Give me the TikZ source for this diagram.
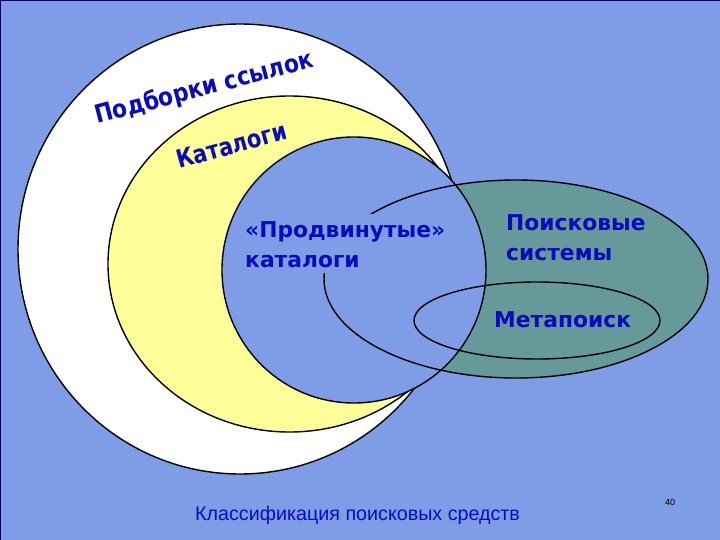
\documentclass[tikz,border=0pt]{standalone}
\usepackage{fontspec}
\setmainfont{DejaVu Sans}
\newfontfamily\captionfont{Liberation Sans}
\usepackage{tikz}
\definecolor{slideblue}{HTML}{7F9DE6}
\definecolor{crescent}{HTML}{FFFF99}
\definecolor{searchgreen}{HTML}{669999}
\definecolor{inkblue}{HTML}{0A0ABE}
\tikzset{
  outline/.style={draw=black,line width=1.4pt},
  label/.style={text=inkblue,font=\bfseries\fontsize{21.8}{29.5}\selectfont,align=left,inner sep=0pt,anchor=base west},
  tilted/.style={text=inkblue,font=\bfseries\fontsize{25}{25}\selectfont,inner sep=0pt,anchor=base west,transform shape},
}
\begin{document}
\begin{tikzpicture}[x=1pt,y=-1pt]
\useasboundingbox (0,0) rectangle (720,540);
\fill[slideblue] (0,0) rectangle (720,540);
\draw[color=blue!40!black,line width=1pt] (0.5,0.5) -- (719.5,0.5);
\draw[color=blue!40!black,line width=1pt] (0.5,0.5) -- (0.5,539.5);
% nested circles
\draw[outline,fill=white] (240,249) ellipse (222 and 225);
\draw[outline,fill=crescent] (289.5,264) ellipse (181.5 and 168);
\fill[searchgreen] (516,279) ellipse (192 and 99);
\draw[outline,fill=slideblue] (354,270) ellipse (132 and 133);
\draw[outline] (516,279) ellipse (192 and 99);
\draw[outline] (537,320.5) ellipse (123 and 38.5);
% tilted titles
\node[tilted,rotate=14.6,xscale=.87] (collections) at (97,124) {Подборки ссылок};
\node[tilted,rotate=15.5,xscale=.84] (catalogs) at (179,169) {Каталоги};
% text boxes
\fill[slideblue] (238,214) rectangle (452,273);
\node[label] (advanced) at (245,267) {«Продвинутые»\\каталоги};
\node[label] (engines) at (506,260) {Поисковые\\системы};
\node[label] (meta) at (494,327) {Метапоиск};
\node[anchor=base west,inner sep=0pt,text=inkblue,font=\captionfont\fontsize{19.7}{24}\selectfont] (caption) at (195,520) {Классификация поисковых средств};
\node[anchor=base,inner sep=0pt,font=\captionfont\fontsize{9}{11}\selectfont] (page) at (670,505) {40};
\end{tikzpicture}
\end{document}
